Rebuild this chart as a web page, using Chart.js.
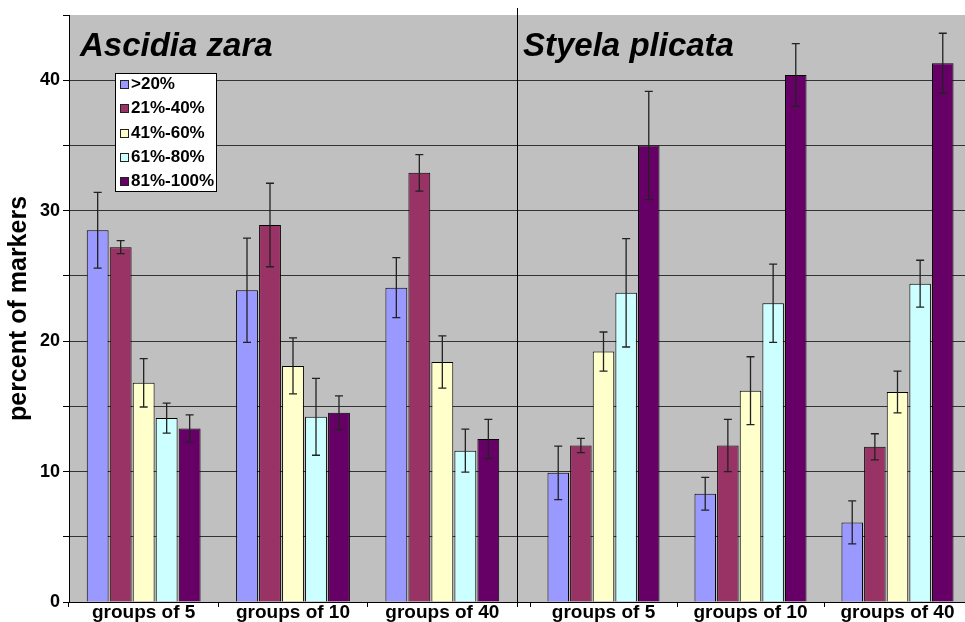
<!DOCTYPE html>
<html>
<head>
<meta charset="utf-8">
<script src="https://cdn.jsdelivr.net/npm/chart.js@4.4.1/dist/chart.umd.min.js"></script>
<style>
  body { margin: 0; background: #fff; overflow: hidden; }
  #wrap { position: relative; width: 965px; height: 622px; overflow: hidden; }
  canvas { position: absolute; top: 0; }
  .panelTitle { position: absolute; top: 28px; font: italic bold 33px "Liberation Sans", Arial, sans-serif; line-height: 1; color: #000; white-space: nowrap; }
  #legend { position: absolute; left: 115px; top: 73px; width: 100px; height: 117px; background: #fff; border: 1px solid #000; font: bold 17px "Liberation Sans", Arial, sans-serif; }
  #legend .row { position: absolute; left: 0; height: 24px; line-height: 24px; white-space: nowrap; }
  #legend .sw { position: absolute; left: 4px; top: 8px; width: 7px; height: 7px; border: 1px solid #222; }
  #legend .tx { position: absolute; left: 15px; top: 0; }
</style>
</head>
<body>
<div id="wrap">
  <canvas id="zaraChart" width="518" height="622" style="left:0"></canvas>
  <canvas id="styelaChart" width="454" height="622" style="left:517px"></canvas>
  <div class="panelTitle" style="left:80px">Ascidia zara</div>
  <div class="panelTitle" style="left:523px">Styela plicata</div>
  <div id="legend"></div>
</div>
<script>
// dados
const groups = ['groups of 5', 'groups of 10', 'groups of 40'];
const classes = ['>20%', '21%-40%', '41%-60%', '61%-80%', '81%-100%'];
const classColors = ['#9999ff', '#993366', '#ffffcc', '#ccffff', '#660066'];
const yLabeled = [0, 10, 20, 30, 40];

// Ascidia zara: uma linha por classe, uma coluna por grupo
const zaraMean = [
    [28.5, 23.9, 24.1],
    [27.2, 28.9, 32.9],
    [16.8, 18.1, 18.4],
    [14.1, 14.2, 11.6],
    [13.3, 14.5, 12.5]
];
const zaraErr = [
    [2.9, 4.0, 2.3],
    [0.5, 3.2, 1.4],
    [1.85, 2.15, 2.0],
    [1.15, 2.95, 1.65],
    [1.05, 1.3, 1.5]
];

// Styela plicata
const styelaMean = [
    [9.9, 8.3, 6.1],
    [12.0, 12.0, 11.9],
    [19.2, 16.2, 16.1],
    [23.7, 22.9, 24.4],
    [35.0, 40.4, 41.3]
];
const styelaErr = [
    [2.05, 1.25, 1.65],
    [0.55, 2.0, 1.0],
    [1.5, 2.6, 1.6],
    [4.15, 3.0, 1.8],
    [4.15, 2.4, 2.3]
];

const fontFamily = '"Liberation Sans", Arial, sans-serif';

function makeDatasets(means, errs) {
    return classes.map((label, i) => ({
        label: label,
        data: means[i],
        errors: errs[i],
        backgroundColor: classColors[i],
        borderColor: '#000',
        borderWidth: 1,
        categoryPercentage: 0.77,
        barPercentage: 0.95
    }));
}

// fundo cinza da area do grafico
const plotBg = {
    id: 'plotBg',
    beforeDraw(chart, args, opts) {
        const a = chart.chartArea;
        const ctx = chart.ctx;
        const x0 = opts.fromEdge ? 0 : a.left;
        ctx.save();
        ctx.fillStyle = '#c0c0c0';
        ctx.fillRect(x0, a.top, a.right - x0, a.bottom - a.top);
        ctx.restore();
    }
};

// barras de erro
const errorBars = {
    id: 'errorBars',
    afterDatasetsDraw(chart) {
        const ctx = chart.ctx;
        const y = chart.scales.y;
        ctx.save();
        ctx.strokeStyle = '#222';
        ctx.lineWidth = 1.3;
        chart.data.datasets.forEach((ds, i) => {
            chart.getDatasetMeta(i).data.forEach((bar, j) => {
                const top = y.getPixelForValue(ds.data[j] + ds.errors[j]);
                const bot = y.getPixelForValue(ds.data[j] - ds.errors[j]);
                ctx.beginPath();
                ctx.moveTo(bar.x, top); ctx.lineTo(bar.x, bot);
                ctx.moveTo(bar.x - 4, top); ctx.lineTo(bar.x + 4, top);
                ctx.moveTo(bar.x - 4, bot); ctx.lineTo(bar.x + 4, bot);
                ctx.stroke();
            });
        });
        ctx.restore();
    }
};

// linha vertical que separa as duas especies
const divider = {
    id: 'divider',
    afterDraw(chart) {
        const a = chart.chartArea;
        const ctx = chart.ctx;
        ctx.save();
        ctx.strokeStyle = '#000';
        ctx.lineWidth = 1;
        ctx.beginPath();
        ctx.moveTo(0.5, 8);
        ctx.lineTo(0.5, a.bottom);
        ctx.moveTo(0, a.bottom + 0.5);
        ctx.lineTo(a.left, a.bottom + 0.5);
        ctx.stroke();
        ctx.restore();
    }
};

function gridColor(c) {
    return c.tick && c.tick.value === 45 ? 'rgba(0,0,0,0)' : '#333';
}

function makeChart(id, means, errs, isLeft) {
    const ctx = document.getElementById(id).getContext('2d');
    return new Chart(ctx, {
        type: 'bar',
        data: { labels: groups, datasets: makeDatasets(means, errs) },
        options: {
            responsive: false,
            animation: false,
            layout: { padding: { top: 15, right: isLeft ? 1 : 0, left: 0, bottom: 0 } },
            plugins: {
                legend: { display: false },
                tooltip: { enabled: false },
                plotBg: { fromEdge: !isLeft }
            },
            scales: {
                x: {
                    grid: { offset: true, drawOnChartArea: false, drawTicks: true, tickLength: 5, color: '#000' },
                    border: { display: true, color: '#000', width: 1 },
                    ticks: {
                        color: '#000',
                        padding: -6,
                        maxRotation: 0,
                        autoSkip: false,
                        font: { family: fontFamily, size: 19, weight: 'bold' }
                    },
                    afterFit(scale) { scale.height = 20; }
                },
                y: {
                    min: 0,
                    max: 45,
                    grid: {
                        color: gridColor,
                        tickColor: isLeft ? '#000' : gridColor,
                        tickLength: isLeft ? 6 : 13,
                        lineWidth: 1
                    },
                    border: { display: isLeft, color: '#000', width: 1 },
                    ticks: {
                        display: isLeft,
                        stepSize: 5,
                        color: '#000',
                        padding: 3,
                        font: { family: fontFamily, size: 18, weight: 'bold' },
                        callback: v => yLabeled.includes(v) ? v : ''
                    },
                    title: {
                        display: isLeft,
                        text: 'percent of markers',
                        color: '#000',
                        padding: { top: 4, bottom: 0 },
                        font: { family: fontFamily, size: 25, weight: 'bold' }
                    },
                    afterFit(scale) { scale.width = isLeft ? 69 : 13; }
                }
            }
        },
        plugins: isLeft ? [plotBg, errorBars] : [plotBg, errorBars, divider]
    });
}

// legenda em html
function buildLegend() {
    const box = document.getElementById('legend');
    classes.forEach((label, i) => {
        const row = document.createElement('div');
        row.className = 'row';
        row.style.top = (-2 + i * 24.3) + 'px';
        const sw = document.createElement('span');
        sw.className = 'sw';
        sw.style.background = classColors[i];
        const tx = document.createElement('span');
        tx.className = 'tx';
        tx.textContent = label;
        row.appendChild(sw);
        row.appendChild(tx);
        box.appendChild(row);
    });
}

makeChart('zaraChart', zaraMean, zaraErr, true);
makeChart('styelaChart', styelaMean, styelaErr, false);
buildLegend();
</script>
</body>
</html>
